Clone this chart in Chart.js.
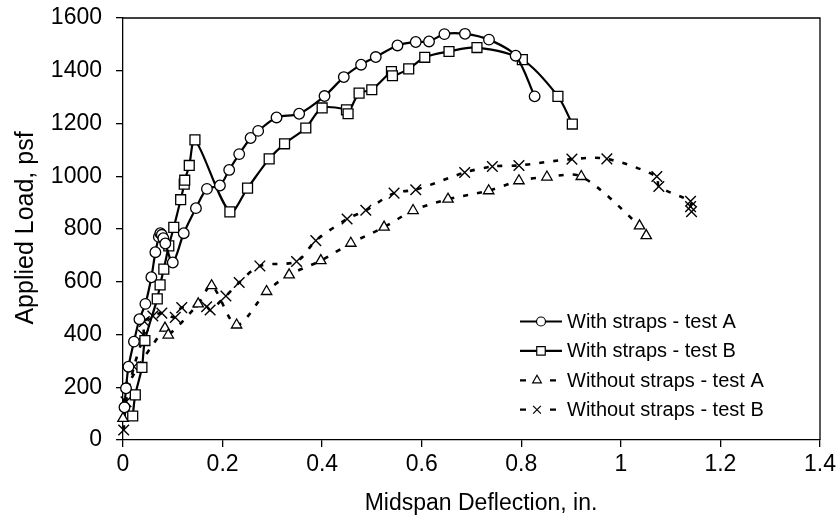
<!DOCTYPE html>
<html>
<head>
<meta charset="utf-8">
<script src="https://cdn.jsdelivr.net/npm/chart.js@4/dist/chart.umd.min.js"></script>
<style>
html,body{margin:0;padding:0;background:#fff;}
#wrap{width:839px;height:527px;}
</style>
</head>
<body>
<div id="wrap"><canvas id="c" width="839" height="527"></canvas></div>
<script>
// Series data: [deflection (in.), load (psf)]
const withStrapsA_x = [0.003,0.006,0.011,0.022,0.033,0.045,0.057,0.065,0.072,0.075,0.078,0.081,0.085,0.100,0.122,0.1465,0.1686,0.1947,0.2133,0.2334,0.2563,0.2715,0.3084,0.3538,0.4048,0.4435,0.4782,0.5077,0.5513,0.588,0.6147,0.6456,0.6869,0.7351,0.7887,0.8268];
const withStrapsA_y = [124,196,278,373,458,516,617,712,770,784,778,765,745,673,784,879,952,965,1024,1084,1145,1172,1223,1237,1304,1376,1423,1452,1496,1509,1511,1539,1540,1518,1457,1303];

const withStrapsB_x = [0.0195,0.0247,0.038,0.044,0.0688,0.0745,0.082,0.092,0.102,0.1158,0.123,0.124,0.1331,0.1445,0.2147,0.2502,0.2936,0.3245,0.3672,0.400,0.4489,0.4521,0.4742,0.4997,0.5392,0.5412,0.5739,0.6061,0.6548,0.711,0.8021,0.8736,0.9025];
const withStrapsB_y = [91,171,275,377,535,588,648,736,806,911,970,985,1041,1138,865,955,1066,1123,1183,1259,1252,1237,1315,1328,1397,1381,1407,1451,1473,1488,1442,1303,1198];

const withoutStrapsA_x = [0.000,0.008,0.0843,0.0909,0.1511,0.178,0.2282,0.2884,0.3337,0.3974,0.4576,0.5244,0.5826,0.6528,0.7345,0.7953,0.8515,0.9205,1.0375,1.051];
const withoutStrapsA_y = [82,200,424,398,516,585,436,563,626,680,746,807,870,913,945,983,997,999,812,775];

const withoutStrapsB_x = [0.0014,0.006,0.022,0.041,0.043,0.060,0.078,0.105,0.118,0.168,0.175,0.2067,0.2334,0.2749,0.3486,0.3873,0.4501,0.4877,0.5445,0.588,0.6863,0.7419,0.7953,0.9017,0.9719,1.0723,1.0763,1.140,1.140,1.142];
const withoutStrapsB_y = [38,145,278,398,449,470,481,465,502,505,493,546,597,660,677,756,838,871,936,949,1014,1037,1041,1065,1066,999,961,905,885,866];

const seriesNames = ["With straps - test A","With straps - test B","Without straps - test A","Without straps - test B"];
const xTicks = [0,0.2,0.4,0.6,0.8,1,1.2,1.4];
const yTicks = [0,200,400,600,800,1000,1200,1400,1600];
const xTitle = 'Midspan Deflection, in.';
const yTitle = 'Applied Load, psf';

function pts(xs, ys){ return xs.map((x,i)=>({x:x, y:ys[i]})); }

const FONT = 'Arial, "Liberation Sans", sans-serif';

const legendStyles = [
  {style:'circle', dashed:false, r:4.5},
  {style:'rect', dashed:false, r:6},
  {style:'triangle', dashed:true, r:5},
  {style:'crossRot', dashed:true, r:5.5}
];

const frameAndLegend = {
  id:'frameAndLegend',
  afterDraw(chart){
    const ctx = chart.ctx, a = chart.chartArea;
    ctx.save();
    ctx.strokeStyle = '#000';
    ctx.lineWidth = 1.3;
    ctx.beginPath();
    ctx.moveTo(a.left, a.top); ctx.lineTo(a.right, a.top); ctx.lineTo(a.right, a.bottom);
    ctx.stroke();
    // axis titles
    ctx.fillStyle = '#000';
    ctx.textAlign = 'center';
    ctx.textBaseline = 'middle';
    ctx.font = '23px ' + FONT;
    ctx.fillText(xTitle, 481, 504);
    ctx.save();
    ctx.translate(26, 228);
    ctx.rotate(-Math.PI/2);
    ctx.font = '25px ' + FONT;
    ctx.fillText(yTitle, 0, 0);
    ctx.restore();
    // legend
    const x0 = 520, x1 = 562, xm = 541, tx = 567;
    const y0 = 321.5, dy = 29.4;
    ctx.font = '20px ' + FONT;
    ctx.textBaseline = 'middle';
    ctx.textAlign = 'left';
    seriesNames.forEach((name,i)=>{
      const y = y0 + i*dy;
      const s = legendStyles[i];
      ctx.strokeStyle = '#000';
      ctx.lineWidth = 2.2;
      ctx.setLineDash([]);
      ctx.beginPath();
      if (!s.dashed){
        ctx.moveTo(x0,y); ctx.lineTo(x1,y);
      } else {
        ctx.moveTo(x0,y); ctx.lineTo(x0+6,y);
        ctx.moveTo(x1-12,y); ctx.lineTo(x1-6,y);
      }
      ctx.stroke();
      ctx.fillStyle = '#fff';
      ctx.lineWidth = 1.2;
      Chart.helpers.drawPoint(ctx, {pointStyle:s.style, radius:s.r, borderWidth:1.2, rotation:0}, s.dashed ? xm-4 : xm, y);
      ctx.fillStyle = '#000';
      ctx.fillText(name, tx, y+1);
    });
    ctx.restore();
  }
};

const common = {showLine:true, borderColor:'#000', pointBorderColor:'#000', pointBackgroundColor:'#fff', pointBorderWidth:1.3, clip:false, tension:0.3};

new Chart(document.getElementById('c'), {
  type:'scatter',
  data:{
    datasets:[
      Object.assign({}, common, {label:seriesNames[0], data:pts(withStrapsA_x, withStrapsA_y), borderWidth:2.2, pointStyle:'circle', pointRadius:5.3}),
      Object.assign({}, common, {label:seriesNames[1], data:pts(withStrapsB_x, withStrapsB_y), borderWidth:2.2, pointStyle:'rect', pointRadius:7}),
      Object.assign({}, common, {label:seriesNames[2], data:pts(withoutStrapsA_x, withoutStrapsA_y), borderWidth:2.6, borderDash:[5,9], pointStyle:'triangle', pointRadius:6}),
      Object.assign({}, common, {label:seriesNames[3], data:pts(withoutStrapsB_x, withoutStrapsB_y), borderWidth:2.6, borderDash:[5,9], pointStyle:'crossRot', pointRadius:7.5, pointBorderWidth:1.4})
    ]
  },
  options:{
    responsive:false,
    animation:false,
    devicePixelRatio:1,
    layout:{padding:{top:18, right:19, left:0, bottom:0}},
    plugins:{legend:{display:false}, tooltip:{enabled:false}},
    scales:{
      x:{
        type:'linear', min:0, max:1.4,
        afterBuildTicks: s => { s.ticks = xTicks.map(v=>({value:v})); },
        afterFit: s => { s.height = 87; s.paddingLeft = 0; s.paddingRight = 0; },
        ticks:{color:'#000', font:{family:FONT, size:23}, padding:4, maxRotation:0,
          callback: v => String(Number(v.toFixed(1)))},
        grid:{drawOnChartArea:false, drawTicks:true, tickLength:7, color:'#000', lineWidth:1.3},
        border:{display:true, color:'#000', width:1.3},
        title:{display:false}
      },
      y:{
        type:'linear', min:0, max:1600,
        afterBuildTicks: s => { s.ticks = yTicks.map(v=>({value:v})); },
        afterFit: s => { s.width = 123; s.paddingTop = 0; s.paddingBottom = 0; },
        ticks:{color:'#000', font:{family:FONT, size:23}, padding:14,
          callback: v => String(v)},
        grid:{drawOnChartArea:false, drawTicks:true, tickLength:7, color:'#000', lineWidth:1.3},
        border:{display:true, color:'#000', width:1.3},
        title:{display:false}
      }
    }
  },
  plugins:[frameAndLegend]
});
</script>
</body>
</html>
